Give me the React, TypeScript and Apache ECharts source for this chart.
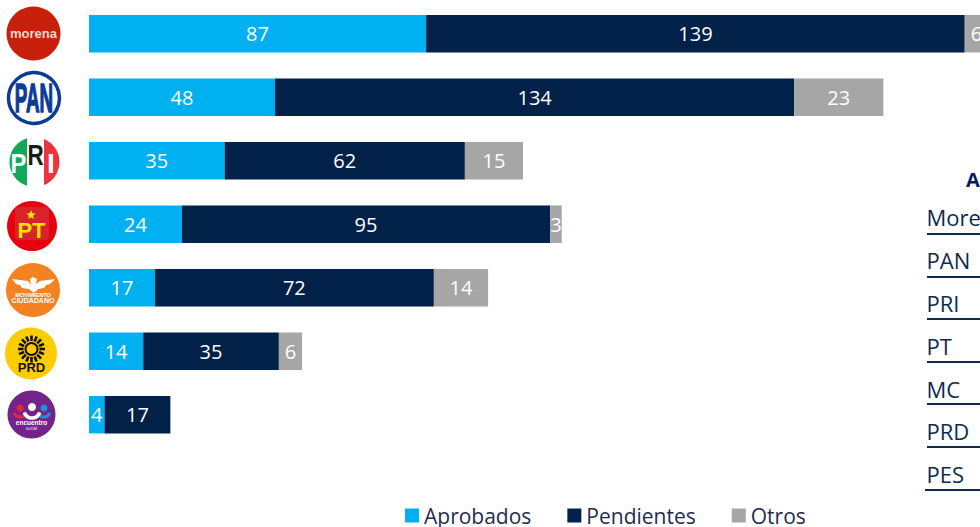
import React, { useEffect, useRef } from "react";
import * as echarts from "echarts";

const categories = ["Morena", "PAN", "PRI", "PT", "MC", "PRD", "PES"];
const aprobados = [87, 48, 35, 24, 17, 14, 4];
const pendientes = [139, 134, 62, 95, 72, 35, 17];
const otros: (number | null)[] = [6, 23, 15, 3, 14, 6, null];
const tableTitle = "Aprobados";
const tableRows = ["Morena", "PAN", "PRI", "PT", "MC", "PRD", "PES"];

const SKY = "#00B0F0";
const NAVY = "#012148";
const GRAY = "#A6A6A6";
const FONT = "'Open Sans', sans-serif";

echarts.graphic.registerShape("priGreen", echarts.graphic.extendPath("M27 138.15 A25 25 0 0 0 27 185.85 Z", {}) as any);
echarts.graphic.registerShape("priRed", echarts.graphic.extendPath("M44 138.9 A25 25 0 0 1 44 185.1 Z", {}) as any);
echarts.graphic.registerShape("eagle", echarts.graphic.extendPath(
  "M12 279 L28 281 L31 285 L30 279 L33 277 L37 279 L36 284 L40 281 L55 279 L50 284 L46 285 L44 288 L38 289 L34 293 L29 289 L22 288 L20 285 L16 284 Z", {}) as any);

function txt(x: number, y: number, text: string, fill: string, size: number, weight: any = "bold", family = "'Liberation Sans', sans-serif", scaleX = 1, extra: any = {}) {
  return {
    type: "text", x, y, scaleX, z: 20,
    style: { text, fill, fontSize: size, fontWeight: weight, fontFamily: family, align: "center", verticalAlign: "middle", ...extra },
  };
}
function circle(cx: number, cy: number, r: number, fill: string, extra: any = {}) {
  return { type: "circle", shape: { cx, cy, r }, z: 10, style: { fill, ...extra } };
}

function logos(): any[] {
  const out: any[] = [];
  // morena
  out.push(circle(33.5, 33.5, 27, "#C8200A"));
  out.push(txt(33.5, 33.5, "morena", "#F6D8CF", 13));
  // PAN
  out.push(circle(34, 98, 25.5, "#FFFFFF", { stroke: "#0B3A98", lineWidth: 3.5 }));
  out.push(txt(34, 98.5, "PAN", "#0B3A98", 40, "bold", "'Liberation Sans', sans-serif", 0.47, { stroke: "#0B3A98", lineWidth: 1.5 }));
  // PRI
  out.push({ type: "priGreen", z: 10, style: { fill: "#12A75A" } });
  out.push({ type: "priRed", z: 10, style: { fill: "#EE3340" } });
  out.push(txt(18.5, 163.5, "P", "#FFFFFF", 28, "bold", "'Liberation Sans', sans-serif", 0.85));
  out.push(txt(35.5, 154.5, "R", "#1A1A1A", 30, "bold", "'Liberation Sans', sans-serif", 0.75));
  out.push(txt(51, 163.5, "I", "#FFFFFF", 28));
  // PT
  out.push(circle(32, 226, 25, "#E8000E"));
  out.push({ type: "rect", shape: { x: 15, y: 207, width: 34, height: 33, r: 3 }, z: 11, style: { fill: "#D8232A" } });
  const star: number[][] = [];
  for (let i = 0; i < 10; i++) {
    const r = i % 2 ? 2.2 : 5;
    const a = -Math.PI / 2 + (i * Math.PI) / 5;
    star.push([31 + r * Math.cos(a), 215 + r * Math.sin(a)]);
  }
  out.push({ type: "polygon", shape: { points: star }, z: 20, style: { fill: "#FFE600" } });
  out.push(txt(31.5, 230, "PT", "#FFE600", 22, "900"));
  // MC
  out.push(circle(33, 290, 27, "#F58220"));
  out.push({ type: "eagle", z: 20, style: { fill: "#FFFFFF" } });
  out.push(txt(33, 295, "MOVIMIENTO", "#FFFFFF", 5.5));
  out.push(txt(33, 300.5, "CIUDADANO", "#FFFFFF", 7));
  // PRD
  out.push(circle(31, 353.5, 26, "#FFCC00"));
  for (let i = 0; i < 16; i++) {
    const a = (i * Math.PI) / 8;
    out.push({
      type: "line", z: 20,
      shape: { x1: 31.5 + 8 * Math.cos(a), y1: 349 + 8 * Math.sin(a), x2: 31.5 + 13.5 * Math.cos(a), y2: 349 + 13.5 * Math.sin(a) },
      style: { stroke: "#111000", lineWidth: 2.6 },
    });
  }
  out.push({ type: "circle", shape: { cx: 31.5, cy: 349, r: 6 }, z: 20, style: { fill: "none", stroke: "#111000", lineWidth: 2 } });
  out.push(txt(31.5, 367, "PRD", "#111000", 13, "900"));
  // PES
  out.push(circle(31.5, 414.5, 24, "#74238A"));
  out.push(circle(20, 408, 3.5, "#E5283A"));
  out.push(circle(32, 407, 4, "#FFFFFF"));
  out.push(circle(44, 408, 3.5, "#1E90D8"));
  out.push({ type: "arc", z: 20, shape: { cx: 20, cy: 411, r: 6, startAngle: 0.3, endAngle: Math.PI - 0.3 }, style: { stroke: "#E5283A", lineWidth: 3, fill: "none" } });
  out.push({ type: "arc", z: 21, shape: { cx: 32, cy: 410, r: 8, startAngle: 0.3, endAngle: Math.PI - 0.3 }, style: { stroke: "#FFFFFF", lineWidth: 3.5, fill: "none" } });
  out.push({ type: "arc", z: 20, shape: { cx: 44, cy: 411, r: 6, startAngle: 0.3, endAngle: Math.PI - 0.3 }, style: { stroke: "#1E90D8", lineWidth: 3, fill: "none" } });
  out.push(txt(31.5, 422, "encuentro", "#FFFFFF", 6.5));
  out.push(txt(31.5, 428, "social", "#E8D8EE", 4.5, "normal"));
  return out;
}

function table(): any[] {
  const out: any[] = [];
  out.push({
    type: "text", x: 966, y: 179, z: 20,
    style: { text: tableTitle, fill: "#002060", fontSize: 20, fontWeight: "bold", fontFamily: FONT, verticalAlign: "middle" },
  });
  const textY = [217, 260, 303, 346, 389, 431, 474];
  const lineY = [234, 277, 319, 362, 404, 447, 490];
  tableRows.forEach((r, i) => {
    out.push({
      type: "text", x: 926.5, y: textY[i], z: 20,
      style: { text: r, fill: "#0E2A50", fontSize: 22, fontFamily: FONT, verticalAlign: "middle" },
    });
    const last = i === tableRows.length - 1;
    out.push({
      type: "line", z: 20,
      shape: { x1: last ? 925 : 927, y1: lineY[i], x2: 980, y2: lineY[i] },
      style: { stroke: "#0E2A50", lineWidth: 2 },
    });
  });
  return out;
}

export default function App() {
  const ref = useRef<HTMLDivElement>(null);
  useEffect(() => {
    const chart = echarts.init(ref.current!, null, { renderer: "svg" });
    const label = { show: true, position: "inside", color: "#FFFFFF", fontSize: 20, fontFamily: FONT };
    const mk = (name: string, data: any[], color: string) => ({
      name, type: "bar", stack: "t", data, barWidth: 37.5, clip: false, itemStyle: { color }, label,
    });
    chart.setOption({
      animation: false,
      grid: { left: 89, top: 1.95, width: 891, height: 444.5 },
      xAxis: { type: "value", min: 0, max: 229.94, show: false },
      yAxis: { type: "category", data: categories, inverse: true, axisLabel: { show: false }, axisLine: { show: false }, axisTick: { show: false } },
      legend: {
        left: 400, top: 500, icon: "rect", itemWidth: 14, itemHeight: 14, itemGap: 36,
        textStyle: { color: "#1F2D4D", fontSize: 21, fontFamily: FONT },
        data: ["Aprobados", "Pendientes", "Otros"],
      },
      series: [mk("Aprobados", aprobados, SKY), mk("Pendientes", pendientes, NAVY), mk("Otros", otros, GRAY)],
      graphic: { elements: [...logos(), ...table()] },
    });
    return () => chart.dispose();
  }, []);
  return <div ref={ref} style={{ position: "fixed", left: 0, top: 0, width: 980, height: 527, background: "#fff" }} />;
}
